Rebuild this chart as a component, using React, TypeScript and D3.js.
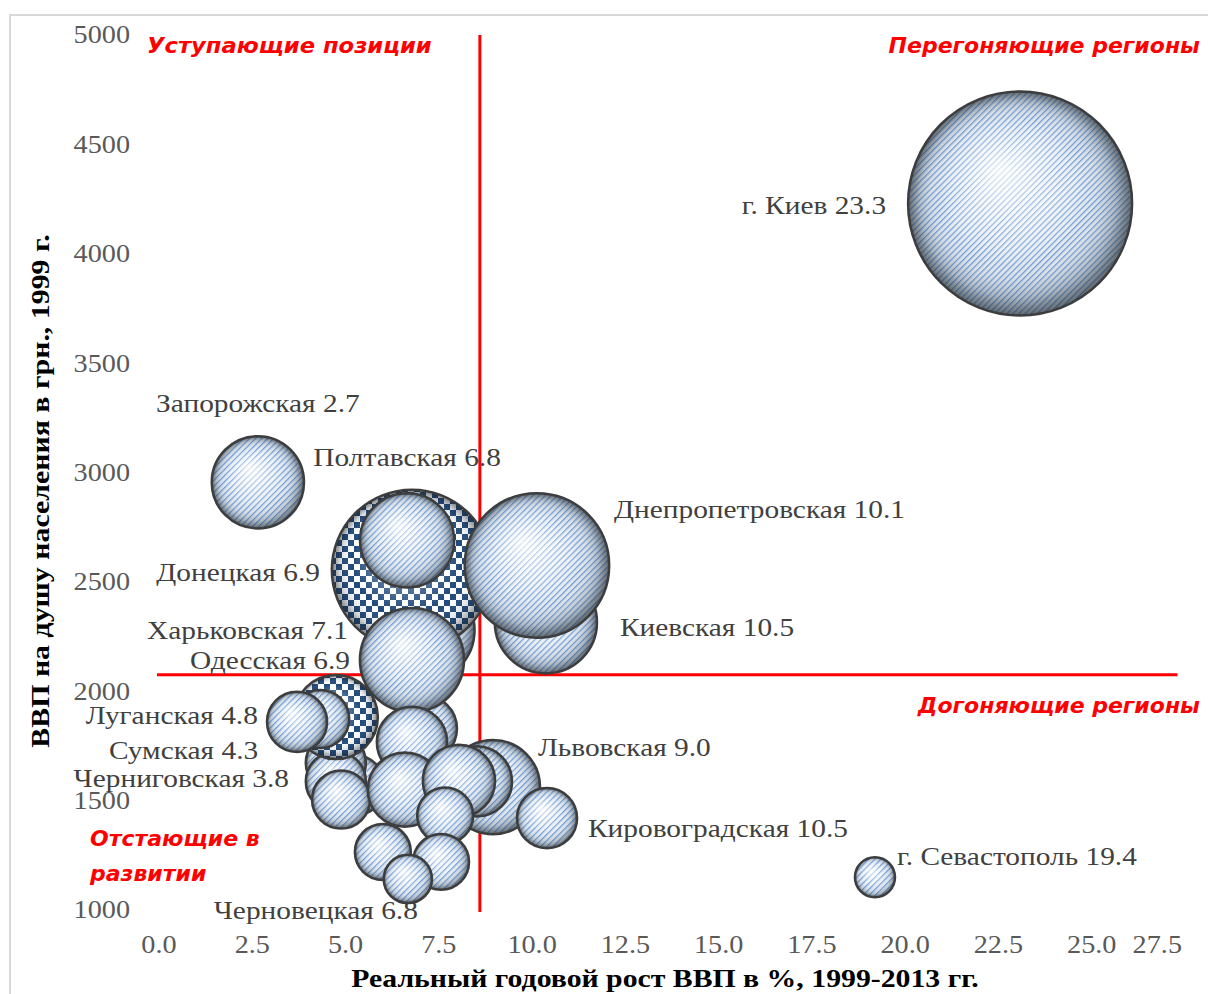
import React from 'react';
import * as d3 from 'd3';

// Bubble chart: GRP growth vs GRP per capita by region of Ukraine

const W = 1208;
const H = 994;

// data, listed in drawing order (back to front)
const regionNames = [
  'г. Киев', 'г. Севастополь', 'Запорожская', 'Харьковская', 'Донецкая', 'Полтавская',
  'Киевская', 'Днепропетровская', 'r09', 'r10', 'r11', 'r12', 'Луганская', 'Сумская',
  'Черниговская', 'r16', 'Одесская', 'r18', 'r19', 'Львовская', 'r21', 'r22', 'r23',
  'Кировоградская', 'r25', 'r26', 'Черновецкая',
];
const growthPct = [
  23.08, 19.19, 2.65, 7.05, 6.78, 6.65,
  10.37, 10.13, 5.25, 4.74, 4.74, 4.88, 4.74, 4.32,
  3.7, 7.1, 6.78, 6.78, 6.59, 8.95, 8.52, 8.04, 7.67,
  10.4, 6.0, 7.56, 6.67,
];
const gdpPerCapita1999 = [
  4230, 1150, 2955, 2280, 2555, 2690,
  2315, 2575, 1570, 1672, 1588, 1505, 1882, 1873,
  1860, 1830, 2143, 1768, 1550, 1562, 1588, 1590, 1432,
  1420, 1265, 1220, 1142,
];
const bubbleSize = [
  125, 4.0, 21.2, 27.5, 64, 22.1,
  26, 52, 9, 9, 9, 8.4, 17.6, 8.4,
  9, 10.9, 27, 12.3, 13.7, 22.1, 12.3, 13, 7.8,
  9, 7.8, 7.8, 5.8,
];
const checkered = ['Донецкая', 'Луганская'];
const labelText: Record<string, string> = {
  'г. Киев': 'г. Киев 23.3',
  'г. Севастополь': 'г. Севастополь 19.4',
  'Запорожская': 'Запорожская 2.7',
  'Харьковская': 'Харьковская 7.1',
  'Донецкая': 'Донецкая 6.9',
  'Полтавская': 'Полтавская 6.8',
  'Киевская': 'Киевская 10.5',
  'Днепропетровская': 'Днепропетровская 10.1',
  'Луганская': 'Луганская 4.8',
  'Сумская': 'Сумская 4.3',
  'Черниговская': 'Черниговская 3.8',
  'Одесская': 'Одесская 6.9',
  'Львовская': 'Львовская 9.0',
  'Кировоградская': 'Кировоградская 10.5',
  'Черновецкая': 'Черновецкая 6.8',
};

const xTickValues = [0, 2.5, 5, 7.5, 10, 12.5, 15, 17.5, 20, 22.5, 25, 27.5];
const yTickValues = [1000, 1500, 2000, 2500, 3000, 3500, 4000, 4500, 5000];
const avgGrowth = 8.6;
const avgGdp = 2075;

const xTitle = 'Реальный годовой рост ВВП в %, 1999-2013 гг.';
const yTitle = 'ВВП на душу населения в грн., 1999 г.';

// label placement relative to bubble centre: [dx, dy, anchor]
const labelLayout: Record<string, [number, number, string]> = {
  'г. Киев': [-134, 2, 'end'],
  'г. Севастополь': [22, -21, 'start'],
  'Запорожская': [0, -79, 'middle'],
  'Харьковская': [-74, 0, 'end'],
  'Донецкая': [-92, 2, 'end'],
  'Полтавская': [0, -83, 'middle'],
  'Киевская': [74, 5, 'start'],
  'Днепропетровская': [77, -56, 'start'],
  'Луганская': [-78, -2, 'end'],
  'Сумская': [-62, 31, 'end'],
  'Черниговская': [-8, 56, 'end'],
  'Одесская': [-62, 0, 'end'],
  'Львовская': [45, -40, 'start'],
  'Кировоградская': [41, 10, 'start'],
  'Черновецкая': [10, 31, 'end'],
};

const serif = '"Liberation Serif", "Times New Roman", serif';
const sans = '"DejaVu Sans", Verdana, sans-serif';
const STRETCH = 1.13;

function T({ x, y, anchor = 'start', size, fill, weight = 'normal', family = serif, sx = STRETCH, children }: any) {
  return (
    <text transform={`translate(${x},${y}) scale(${sx},1)`} textAnchor={anchor} dominantBaseline="central"
      fontFamily={family} fontSize={size} fontWeight={weight} fill={fill}>{children}</text>
  );
}

export default function App() {
  const x = d3.scaleLinear().domain([0, 27.5]).range([159, 1185]);
  const y = d3.scaleLinear().domain([1000, 5000]).range([910, 35]);
  const r = d3.scaleSqrt().domain([0, d3.max(bubbleSize) as number]).range([0, 112]);

  const bubbles = regionNames.map((name, i) => ({
    name,
    cx: x(growthPct[i]),
    cy: y(gdpPerCapita1999[i]),
    r: r(bubbleSize[i]),
    check: checkered.includes(name),
  }));

  const last = xTickValues.length - 1;

  return (
    <svg width={W} height={H} style={{ position: 'absolute', left: 0, top: 0, background: '#fff' }}>
      <defs>
        <radialGradient id="base" cx="0.5" cy="0.5" r="0.5" fx="0.42" fy="0.36">
          <stop offset="0" stopColor="#ffffff" />
          <stop offset="0.55" stopColor="#e8eef5" />
          <stop offset="1" stopColor="#c6d0da" />
        </radialGradient>
        <pattern id="stripes" patternUnits="userSpaceOnUse" width="4.3" height="4.3" patternTransform="rotate(-45)">
          <rect x="0" y="0" width="4.3" height="1.2" fill="#3a78c6" opacity="0.7" />
        </pattern>
        <pattern id="checks" patternUnits="userSpaceOnUse" width="12" height="12">
          <rect x="0" y="0" width="12" height="12" fill="#ffffff" />
          <rect x="0" y="0" width="6" height="6" fill="#1f497d" />
          <rect x="6" y="6" width="6" height="6" fill="#1f497d" />
        </pattern>
        <radialGradient id="shade" cx="0.5" cy="0.5" r="0.5" fx="0.4" fy="0.34">
          <stop offset="0" stopColor="#ffffff" stopOpacity="0.75" />
          <stop offset="0.35" stopColor="#ffffff" stopOpacity="0.3" />
          <stop offset="0.68" stopColor="#ffffff" stopOpacity="0" />
          <stop offset="0.88" stopColor="#1c2228" stopOpacity="0.18" />
          <stop offset="1" stopColor="#1c2228" stopOpacity="0.6" />
        </radialGradient>
      </defs>

      {/* chart frame */}
      <rect x={10} y={15} width={1300} height={1100} fill="none" stroke="#d9d9d9" strokeWidth={2} />

      {/* y tick labels */}
      {yTickValues.map(v => (
        <T key={v} x={130} y={y(v)} anchor="end" size={25} fill="#595959">{v}</T>
      ))}
      {/* x tick labels */}
      {xTickValues.map((v, i) => (
        <T key={v} x={i === last ? x(v) - 3 : x(v)} y={945} anchor={i === last ? 'end' : 'middle'}
          size={25} fill="#595959">{v.toFixed(1)}</T>
      ))}

      {/* quadrant dividers */}
      <line x1={x(avgGrowth)} x2={x(avgGrowth)} y1={y(5000)} y2={y(1000) + 2} stroke="#ff0000" strokeWidth={3} />
      <line x1={x(0) - 2} x2={x(27.3)} y1={y(avgGdp)} y2={y(avgGdp)} stroke="#ff0000" strokeWidth={3} />

      {/* bubbles */}
      {bubbles.map(b => (
        <g key={b.name}>
          <circle cx={b.cx} cy={b.cy} r={b.r} fill={b.check ? '#ffffff' : 'url(#base)'} />
          <circle cx={b.cx} cy={b.cy} r={b.r} fill={b.check ? 'url(#checks)' : 'url(#stripes)'} />
          <circle cx={b.cx} cy={b.cy} r={b.r} fill="url(#shade)" />
          <circle cx={b.cx} cy={b.cy} r={b.r} fill="none" stroke="#3d3d3d" strokeWidth={2.5} />
        </g>
      ))}

      {/* bubble labels */}
      {bubbles.filter(b => labelText[b.name]).map(b => {
        const [dx, dy, anchor] = labelLayout[b.name];
        return (
          <T key={'l' + b.name} x={b.cx + dx} y={b.cy + dy} anchor={anchor} size={26} fill="#404040">
            {labelText[b.name]}
          </T>
        );
      })}

      {/* quadrant captions */}
      <g fontStyle="italic">
        <T x={147} y={45} family={sans} size={22} weight="bold" fill="#ff0000" sx={1.03}>Уступающие позиции</T>
        <T x={1200} y={45} anchor="end" family={sans} size={22} weight="bold" fill="#ff0000" sx={1}>Перегоняющие регионы</T>
        <T x={1200} y={705} anchor="end" family={sans} size={22} weight="bold" fill="#ff0000" sx={1}>Догоняющие регионы</T>
        <T x={90} y={838} family={sans} size={22} weight="bold" fill="#ff0000" sx={1}>Отстающие в</T>
        <T x={90} y={873} family={sans} size={22} weight="bold" fill="#ff0000" sx={1}>развитии</T>
      </g>

      {/* axis titles */}
      <T x={665} y={978} anchor="middle" size={26} weight="bold" fill="#000" sx={1.145}>{xTitle}</T>
      <text transform={`translate(40, 491) rotate(-90) scale(1.15,1)`} textAnchor="middle" dominantBaseline="central"
        fontFamily={serif} fontSize={26} fontWeight="bold" fill="#000">{yTitle}</text>
    </svg>
  );
}
